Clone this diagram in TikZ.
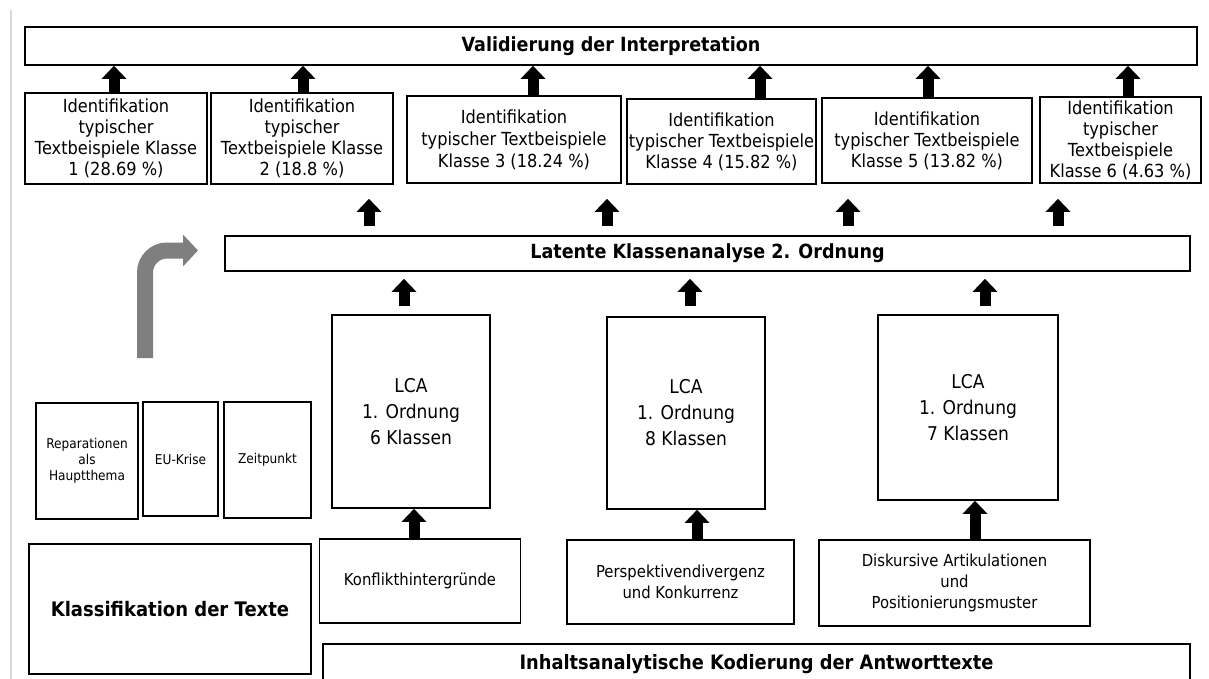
\documentclass[tikz,border=0pt]{standalone}
\usepackage{fontspec}
\setmainfont{DejaVu Sans}[FakeStretch=0.9]
\usetikzlibrary{arrows.meta}
\definecolor{arrgray}{HTML}{7F7F7F}
\definecolor{edgegray}{HTML}{D9D9D9}
\begin{document}
\begin{tikzpicture}[x=1pt,y=-1pt,
  box/.style={draw=black, line width=1.6pt, rectangle, inner sep=2pt, align=center,
    font=\fontsize{18}{21}\selectfont},
  hbox/.style={box, font=\bfseries\fontsize{19.5}{23}\selectfont},
  lcabox/.style={box, font=\fontsize{19}{26}\selectfont},
  smallbox/.style={box, font=\fontsize{13.5}{16}\selectfont},
  codebox/.style={box, font=\fontsize{16.5}{21}\selectfont},
  blk/.style={black, line width=11pt, -{Triangle[width=24pt,length=13pt]}},
  grayarr/.style={arrgray, line width=16pt, rounded corners=22pt, -{Triangle[width=31pt,length=15pt]}}
]
\useasboundingbox (0,0) rectangle (1209,679);
\fill[white] (0,0) rectangle (1209,679);
\draw[edgegray, line width=2pt] (11,10) -- (11,679);

% top header
\node[hbox, minimum width=1172pt, minimum height=38pt] (val) at (611,46) {Validierung der Interpretation};

% Identifikation row
\node[box, minimum width=182pt, minimum height=91pt] (id1) at (116,138.5)
  {Identifikation\\typischer\\Textbeispiele Klasse\\1 (28.69 \%)};
\node[box, minimum width=182pt, minimum height=91pt] (id2) at (302,138.5)
  {Identifikation\\typischer\\Textbeispiele Klasse\\2 (18.8 \%)};
\node[box, minimum width=214pt, minimum height=87pt, font=\fontsize{18}{22}\selectfont] (id3) at (514,139.5)
  {Identifikation\\typischer Textbeispiele\\Klasse 3 (18.24 \%)};
\node[box, minimum width=187pt, minimum height=85pt] (id4) at (721.5,141.5)
  {Identifikation\\typischer Textbeispiele\\Klasse 4 (15.82 \%)};
\node[box, minimum width=210pt, minimum height=85pt] (id5) at (927,140.5)
  {Identifikation\\typischer Textbeispiele\\Klasse 5 (13.82 \%)};
\node[box, minimum width=161pt, minimum height=86pt] (id6) at (1120.5,140)
  {Identifikation\\typischer\\Textbeispiele\\Klasse 6 (4.63 \%)};

% arrows into header
\draw[blk] (114,0 |- id1.north) -- (114,0 |- val.south);
\draw[blk] (303,0 |- id2.north) -- (303,0 |- val.south);
\draw[blk] (533,0 |- id3.north) -- (533,0 |- val.south);
\draw[blk] (760,0 |- id4.north) -- (760,0 |- val.south);
\draw[blk] (928,0 |- id5.north) -- (928,0 |- val.south);
\draw[blk] (1128,0 |- id6.north) -- (1128,0 |- val.south);

% Latente Klassenanalyse
\node[hbox, minimum width=965pt, minimum height=35pt] (lat) at (707.5,253.5) {Latente Klassenanalyse 2. Ordnung};

\draw[blk, shorten <=9pt, shorten >=14pt] (369,0 |- lat.north) -- (369,0 |- id1.south);
\draw[blk, shorten <=9pt, shorten >=14pt] (607,0 |- lat.north) -- (607,0 |- id1.south);
\draw[blk, shorten <=9pt, shorten >=14pt] (848,0 |- lat.north) -- (848,0 |- id1.south);
\draw[blk, shorten <=9pt, shorten >=14pt] (1058,0 |- lat.north) -- (1058,0 |- id1.south);

% gray bent arrow
\draw[grayarr] (145,358) -- (145,250.5) -- (198,250.5);

% LCA boxes
\node[lcabox, minimum width=158pt, minimum height=193pt] (lca1) at (411,411.5) {LCA\\1. Ordnung\\6 Klassen};
\node[lcabox, minimum width=158pt, minimum height=192pt] (lca2) at (686,413) {LCA\\1. Ordnung\\8 Klassen};
\node[lcabox, minimum width=180pt, minimum height=185pt] (lca3) at (968,407.5) {LCA\\1. Ordnung\\7 Klassen};

\draw[blk, shorten <=8pt, shorten >=7pt] (404,0 |- lca1.north) -- (404,0 |- lat.south);
\draw[blk, shorten <=10pt, shorten >=7pt] (690,0 |- lca2.north) -- (690,0 |- lat.south);
\draw[blk, shorten <=8pt, shorten >=7pt] (985,0 |- lca3.north) -- (985,0 |- lat.south);

% left small boxes
\node[smallbox, minimum width=102pt, minimum height=116pt] (rep) at (87,461) {Reparationen\\als\\Hauptthema};
\node[smallbox, minimum width=75pt, minimum height=114pt] (eu) at (180.5,459) {EU-Krise};
\node[smallbox, minimum width=87pt, minimum height=116pt] (zeit) at (267.5,460) {Zeitpunkt};
\node[hbox, minimum width=282pt, minimum height=130pt, font=\bfseries\fontsize{20}{24}\selectfont] (klass) at (170,609) {Klassifikation der Texte};

% coding boxes
\node[codebox, minimum width=201pt, minimum height=84pt] (konf) at (420,581) {Konflikthintergründe};
\node[codebox, minimum width=227pt, minimum height=84pt] (persp) at (680.5,582) {Perspektivendivergenz\\und Konkurrenz};
\node[codebox, minimum width=271pt, minimum height=86pt] (disk) at (954.5,583) {Diskursive Artikulationen\\und\\Positionierungsmuster};

\draw[blk] (414,0 |- konf.north) -- (414,0 |- lca1.south);
\draw[blk] (697,0 |- persp.north) -- (697,0 |- lca2.south);
\draw[blk] (975,0 |- disk.north) -- (975,0 |- lca3.south);

% bottom header
\node[hbox, anchor=north, minimum width=867pt, minimum height=40pt, font=\bfseries\fontsize{19.8}{23}\selectfont] (inh) at (756.5,643) {Inhaltsanalytische Kodierung der Antworttexte};
\end{tikzpicture}
\end{document}
